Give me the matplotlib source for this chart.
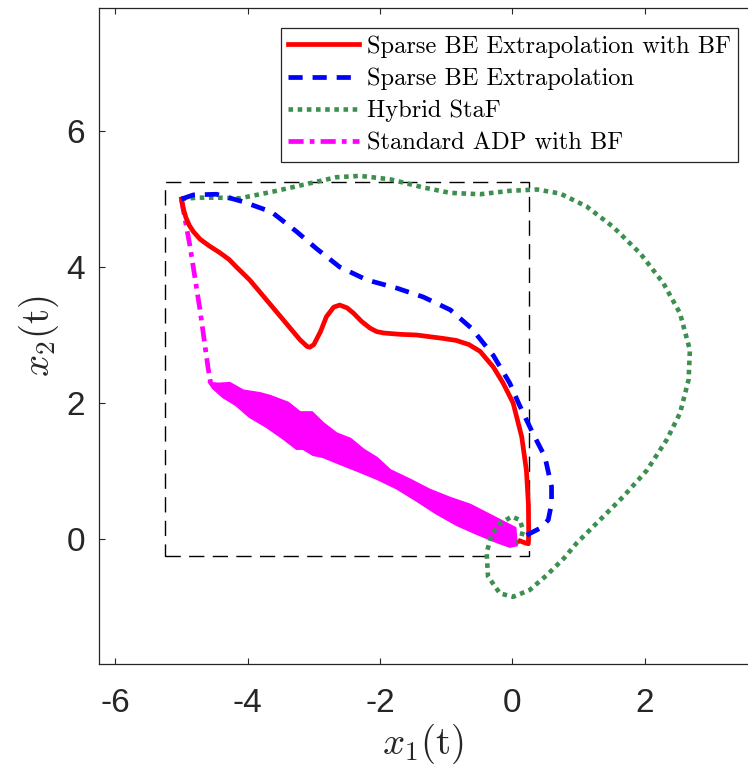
import matplotlib
matplotlib.use("Agg")
import matplotlib.pyplot as plt
from matplotlib.font_manager import FontProperties

plt.rcParams['mathtext.fontset'] = 'cm'
plt.rcParams['axes.unicode_minus'] = False

# ---------------- data ----------------
red_x = [-5.0, -4.97, -4.93, -4.88, -4.82, -4.72, -4.58, -4.42, -4.28, -4.17, -3.97, -3.71, -3.46,
         -3.21, -3.10, -3.06, -3.00, -2.90, -2.81, -2.70, -2.61, -2.50, -2.40, -2.28,
         -2.15, -2.05, -1.95, -1.70, -1.45, -1.05, -0.85, -0.66, -0.49, -0.29, -0.14, 0.01,
         0.14, 0.21, 0.24, 0.245, 0.24, 0.20, 0.12]
red_y = [5.0, 4.85, 4.72, 4.61, 4.52, 4.41, 4.31, 4.21, 4.11, 4.00, 3.81, 3.51, 3.22,
         2.93, 2.83, 2.82, 2.86, 3.05, 3.27, 3.41, 3.44, 3.40, 3.32, 3.20,
         3.10, 3.05, 3.03, 3.01, 3.00, 2.95, 2.92, 2.86, 2.76, 2.53, 2.29, 2.00,
         1.50, 1.01, 0.52, 0.10, -0.07, -0.06, -0.03]

blue_x = [-5.0, -4.82, -4.47, -4.07, -3.64, -3.26, -2.96, -2.61, -2.20, -1.75,
          -1.35, -0.94, -0.62, -0.29, -0.04, 0.10, 0.31, 0.49, 0.59, 0.59,
          0.54, 0.42, 0.16]
blue_y = [5.0, 5.06, 5.07, 4.96, 4.81, 4.52, 4.27, 4.00, 3.81, 3.69,
          3.56, 3.37, 3.10, 2.70, 2.29, 1.98, 1.55, 1.21, 0.77, 0.52,
          0.28, 0.16, 0.03]

green_x = [-5.0, -4.75, -4.47, -4.12, -3.61, -3.11, -2.66, -2.30, -1.85, -1.35,
           -0.94, -0.49, -0.04, 0.37, 0.72, 1.12, 1.52, 1.93, 2.28, 2.53,
           2.68, 2.66, 2.53, 2.33, 2.03, 1.67, 1.32, 0.97, 0.78, 0.52, 0.26,
           0.01, -0.19, -0.37, -0.39, -0.32, -0.19, -0.01, 0.11, 0.16, 0.12, 0.03]
green_y = [5.0, 5.02, 5.02, 5.01, 5.11, 5.22, 5.32, 5.34, 5.29, 5.17,
           5.09, 5.07, 5.12, 5.14, 5.08, 4.89, 4.59, 4.20, 3.76, 3.32,
           2.78, 2.34, 1.85, 1.46, 1.01, 0.62, 0.28, -0.06, -0.28, -0.53, -0.75,
           -0.85, -0.80, -0.55, -0.20, 0.05, 0.23, 0.33, 0.28, 0.13, -0.02, -0.08]

mag_line_x = [-5.0, -4.87, -4.72, -4.60, -4.56]
mag_line_y = [4.99, 4.30, 3.37, 2.53, 2.30]

# chattering band of the Standard ADP trajectory: upper and lower edges
mag_up_x = [-4.57, -4.44, -4.27, -4.07, -3.81, -3.66, -3.39, -3.21, -3.03, -2.86,
            -2.66, -2.45, -2.25, -2.05, -1.85, -1.55, -1.25, -0.94, -0.64, -0.34,
            -0.14, 0.04, 0.06]
mag_up_y = [2.29, 2.28, 2.29, 2.18, 2.14, 2.10, 2.00, 1.86, 1.86, 1.70,
            1.55, 1.47, 1.31, 1.19, 1.01, 0.87, 0.72, 0.60, 0.50, 0.35,
            0.25, 0.16, -0.09]
mag_lo_x = [-0.04, -0.24, -0.54, -0.84, -1.15, -1.45, -1.75, -2.05, -2.35, -2.61,
            -2.86, -3.01, -3.16, -3.26, -3.46, -3.71, -3.97, -4.17, -4.37, -4.52]
mag_lo_y = [-0.11, -0.04, 0.08, 0.21, 0.38, 0.57, 0.75, 0.89, 1.01, 1.11,
            1.21, 1.24, 1.33, 1.33, 1.48, 1.65, 1.80, 1.97, 2.09, 2.22]

box_x = [-5.25, 0.25, 0.25, -5.25, -5.25]
box_y = [-0.25, -0.25, 5.25, 5.25, -0.25]

labels = ['Sparse BE Extrapolation with BF', 'Sparse BE Extrapolation',
          'Hybrid StaF', 'Standard ADP with BF']
xticks = [-6, -4, -2, 0, 2]
yticks = [0, 2, 4, 6]

# ---------------- figure ----------------
W, H = 748, 773
fig = plt.figure(figsize=(W / 100, H / 100), dpi=100)
left, right, bottom, top = 98.7, 748, 664, 8
ax = fig.add_axes([left / W, (H - bottom) / H, (right - left) / W, (bottom - top) / H])

axc = '#262626'
ax.plot(box_x, box_y, color='k', lw=1.0, ls=(0, (11, 6)), zorder=1)

mag = '#ff00ff'
poly_x = mag_up_x + mag_lo_x
poly_y = mag_up_y + mag_lo_y
ax.fill(poly_x, poly_y, color=mag, lw=2.0, ec=mag, zorder=2)
h_mag, = ax.plot(mag_line_x, mag_line_y, color=mag, lw=3.4,
                 ls=(0, (3.2, 1.3, 1.0, 1.3)), zorder=2)

h_green, = ax.plot(green_x, green_y, color='#3d8f4f', lw=3.3, ls=(0, (1, 1)), zorder=3)
h_red, = ax.plot(red_x, red_y, color='#ff0000', lw=3.4, zorder=4, solid_joinstyle='round')
h_blue, = ax.plot(blue_x, blue_y, color='#0000ff', lw=3.4, ls=(0, (3.0, 2.1)), zorder=5)

ax.set_xlim(-6.25, (right - 512.5) / 66.2)
ax.set_ylim((539 - bottom) / 68.0, (539 - top) / 68.0)
ax.set_xticks(xticks)
ax.set_yticks(yticks)

tickfont = FontProperties(family='Liberation Sans', size=24)
ax.set_xticklabels([str(t) for t in xticks], fontproperties=tickfont, color=axc)
ax.set_yticklabels([str(t) for t in yticks], fontproperties=tickfont, color=axc)
ax.tick_params(axis='x', direction='in', length=4.5, width=0.8, color=axc,
               top=True, bottom=True, pad=17)
ax.tick_params(axis='y', direction='in', length=4.5, width=0.8, color=axc,
               left=True, right=False, pad=10)
for s in ['left', 'bottom', 'top']:
    ax.spines[s].set_color(axc)
    ax.spines[s].set_linewidth(0.9)
ax.spines['right'].set_visible(False)

ax.set_xlabel(r'$x_1(\mathrm{t})$', fontsize=28, color=axc, labelpad=2)
ax.set_ylabel(r'$x_2(\mathrm{t})$', fontsize=28, color=axc, labelpad=4)

leg = fig.legend([h_red, h_blue, h_green, h_mag], labels,
                 loc='upper right', bbox_to_anchor=(738 / W, 1 - 28 / H),
                 prop=FontProperties(family='cmr10', size=17.6),
                 frameon=True, fancybox=False, framealpha=1, edgecolor=axc,
                 handlelength=2.9, handletextpad=0.3, borderpad=0.3,
                 labelspacing=0.4, borderaxespad=0)
leg.get_frame().set_linewidth(0.9)

fig.savefig('out.png', dpi=100)
